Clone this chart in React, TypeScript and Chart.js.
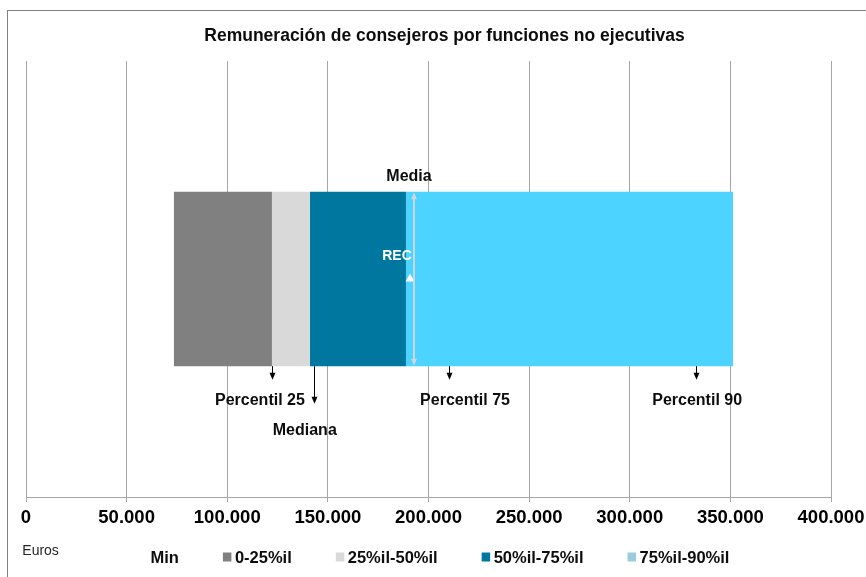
import React, { useEffect, useRef } from 'react';
import { Chart, registerables } from 'chart.js';

Chart.register(...registerables);

// ---------- data ----------
const chartTitle = 'Remuneración de consejeros por funciones no ejecutivas';
const categories = ['Remuneración'];
const seriesNames = ['Min', '0-25%il', '25%il-50%il', '50%il-75%il', '75%il-90%il'];
const minValues = [73500];
const q0to25Values = [48700];
const q25to50Values = [18900];
const q50to75Values = [47700];
const q75to90Values = [162500];

const percentileLabels = ['Percentil 25', 'Mediana', 'Percentil 75', 'Percentil 90'];
const percentileValues = [122200, 143000, 210200, 333000];

const mediaLabel = 'Media';
const mediaValues = [193000];
const recLabel = 'REC';
const recValues = [190800];

const xTickLabels = ['0', '50.000', '100.000', '150.000', '200.000', '250.000', '300.000', '350.000', '400.000'];
const axisUnitLabel = 'Euros';

// ---------- styles ----------
const FONT = '"Liberation Sans", Arial, Helvetica, sans-serif';
const seriesColors = ['rgba(0,0,0,0)', '#808080', '#D9D9D9', '#00779E', '#4CD3FF'];
const legendSwatchColors = [null, '#808080', '#D9D9D9', '#00779E', '#99CCDD'];
const gridColor = '#A6A6A6';
const arrowLengths = [13.5, 37.5, 13.5, 13.5];
const labelDx = [-12, -9, 16, 1];
const labelBaselineDy = [38.5, 68.5, 38.5, 38.5];

const seriesData = [minValues, q0to25Values, q25to50Values, q50to75Values, q75to90Values];

function arrowHead(ctx: CanvasRenderingContext2D, x: number, tipY: number, dir: number, w: number, h: number) {
  ctx.beginPath();
  ctx.moveTo(x, tipY);
  ctx.lineTo(x - w / 2, tipY - dir * h);
  ctx.lineTo(x + w / 2, tipY - dir * h);
  ctx.closePath();
  ctx.fill();
}

const annotPlugin = {
  id: 'annot',
  beforeDraw(chart: any) {
    const ctx = chart.ctx as CanvasRenderingContext2D;
    ctx.save();
    ctx.fillStyle = '#ffffff';
    ctx.fillRect(0, 0, chart.width, chart.height);
    ctx.strokeStyle = '#808080';
    ctx.lineWidth = 1;
    ctx.strokeRect(7.5, 10.5, chart.width + 40, chart.height + 40);
    ctx.restore();
  },
  afterDatasetsDraw(chart: any) {
    const ctx = chart.ctx as CanvasRenderingContext2D;
    const xScale = chart.scales.x;
    const barEl = chart.getDatasetMeta(1).data[0];
    const { y, height } = barEl.getProps(['y', 'height'], true);
    const top = y - height / 2;
    const bottom = y + height / 2;
    ctx.save();

    // Media line with arrows
    const mx = Math.round(xScale.getPixelForValue(mediaValues[0]));
    ctx.strokeStyle = 'rgba(215,215,215,0.9)';
    ctx.fillStyle = 'rgba(215,215,215,0.95)';
    ctx.lineWidth = 2;
    ctx.beginPath();
    ctx.moveTo(mx, top + 5);
    ctx.lineTo(mx, bottom - 5);
    ctx.stroke();
    arrowHead(ctx, mx, top + 0.5, -1, 6, 7);
    arrowHead(ctx, mx, bottom - 0.5, 1, 6, 7);

    ctx.fillStyle = '#0d0d0d';
    ctx.font = `bold 16px ${FONT}`;
    ctx.textAlign = 'center';
    ctx.textBaseline = 'alphabetic';
    ctx.fillText(mediaLabel, mx - 5, top - 10.5);

    // REC label
    const recMeta = chart.getDatasetMeta(0).data[0];
    const rp = recMeta.getProps(['x', 'y'], true);
    ctx.fillStyle = '#ffffff';
    ctx.font = `bold 14px ${FONT}`;
    ctx.fillText(recLabel, rp.x - 13, rp.y - 19.5);

    // percentile arrows and labels
    ctx.strokeStyle = '#000000';
    ctx.fillStyle = '#000000';
    ctx.lineWidth = 1;
    percentileValues.forEach((v, i) => {
      const px = Math.round(xScale.getPixelForValue(v)) + 0.5;
      const tip = bottom + arrowLengths[i];
      ctx.beginPath();
      ctx.moveTo(px, bottom);
      ctx.lineTo(px, tip - 5);
      ctx.stroke();
      arrowHead(ctx, px, tip, 1, 6, 7);
    });
    ctx.fillStyle = '#0d0d0d';
    ctx.font = `bold 16px ${FONT}`;
    percentileLabels.forEach((lab, i) => {
      const px = xScale.getPixelForValue(percentileValues[i]);
      ctx.fillText(lab, px + labelDx[i], bottom + labelBaselineDy[i]);
    });
    ctx.restore();
  },
  afterDraw(chart: any) {
    const ctx = chart.ctx as CanvasRenderingContext2D;
    ctx.save();
    ctx.textBaseline = 'alphabetic';
    // title
    ctx.fillStyle = '#0d0d0d';
    ctx.font = `bold 17.5px ${FONT}`;
    ctx.textAlign = 'center';
    ctx.fillText(chartTitle, 444.5, 40.7);

    // unit label
    ctx.textAlign = 'left';
    ctx.font = `14px ${FONT}`;
    ctx.fillStyle = '#262626';
    ctx.fillText(axisUnitLabel, 22.3, 555);

    // legend
    ctx.font = `bold 16.5px ${FONT}`;
    let x = 150.5;
    seriesNames.forEach((name, i) => {
      const sw = legendSwatchColors[i];
      if (sw) {
        ctx.fillStyle = sw;
        ctx.fillRect(x, 552.5, 8.5, 9);
        x += 12;
      }
      ctx.fillStyle = '#0d0d0d';
      ctx.fillText(name, x, 563);
      x += ctx.measureText(name).width + 44;
    });
    ctx.restore();
  },
};

export default function App() {
  const ref = useRef<HTMLCanvasElement>(null);
  useEffect(() => {
    if (!ref.current) return;
    Chart.defaults.font.family = FONT;
    const datasets: any[] = [
      {
        type: 'scatter',
        label: recLabel,
        data: recValues.map((v) => ({ x: v, y: categories[0] })),
        pointStyle: 'triangle',
        pointRadius: 5.2,
        backgroundColor: '#ffffff',
        borderColor: '#ffffff',
        borderWidth: 0,
        order: -1,
        stack: 'rec',
      },
      ...seriesNames.map((name, i) => ({
        type: 'bar',
        label: name,
        data: seriesData[i],
        backgroundColor: seriesColors[i],
        borderWidth: 0,
        categoryPercentage: 0.4,
        barPercentage: 1,
        stack: 'main',
      })),
    ];
    const chart = new Chart(ref.current, {
      type: 'bar',
      data: { labels: categories, datasets },
      options: {
        indexAxis: 'y',
        responsive: false,
        animation: false,
        events: [],
        layout: { padding: { left: 26, right: 35, top: 61, bottom: 0 } },
        plugins: { legend: { display: false }, title: { display: false }, tooltip: { enabled: false } },
        scales: {
          x: {
            type: 'linear',
            stacked: true,
            min: 0,
            max: 400000,
            afterFit: (s: any) => {
              s.height = 80;
              s.paddingLeft = 0;
              s.paddingRight = 0;
            },
            ticks: {
              stepSize: 50000,
              padding: 5,
              color: '#000000',
              font: { size: 18.5, weight: 'bold', family: FONT },
              maxRotation: 0,
              autoSkip: false,
              callback: (_v: any, idx: number) => xTickLabels[idx],
            },
            grid: { color: gridColor, lineWidth: 1, tickLength: 5, drawTicks: true },
            border: { display: true, color: gridColor, width: 1 },
          },
          y: {
            type: 'category',
            stacked: true,
            display: false,
          },
        },
      },
      plugins: [annotPlugin],
    } as any);
    return () => chart.destroy();
  }, []);
  return (
    <div style={{ position: 'fixed', left: 0, top: 0, width: 866, height: 577, background: '#fff' }}>
      <canvas ref={ref} width={866} height={577} style={{ display: 'block', width: 866, height: 577 }} />
    </div>
  );
}
